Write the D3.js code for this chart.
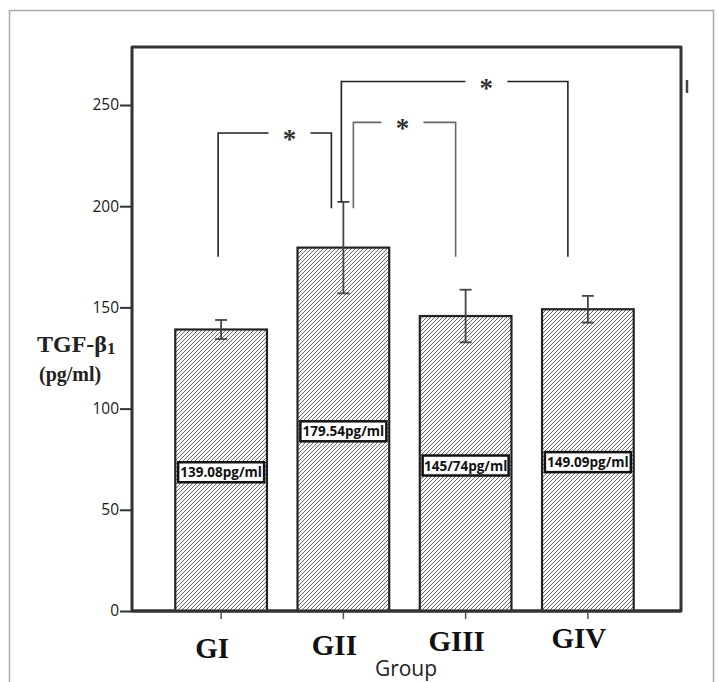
<!DOCTYPE html>
<html><head><meta charset="utf-8">
<script src="https://cdn.jsdelivr.net/npm/d3@7"></script>
<style>body{margin:0;background:#fff} svg{display:block}</style>
</head><body><svg id="c" width="718" height="682"></svg>
<script>
// ---- data ----
const groups = ["GI", "GII", "GIII", "GIV"];
const means = [139.08, 179.54, 145.74, 149.09];
const errors = [4.7, 22.6, 13.0, 6.6];
const valueLabels = ["139.08pg/ml", "179.54pg/ml", "145/74pg/ml", "149.09pg/ml"];
const yTicks = [0, 50, 100, 150, 200, 250];
const yMax = 278.6;
const bracketFrom = ["GI", "GII", "GII"];
const bracketTo = ["GII", "GIII", "GIV"];
const bracketLevel = [236.2, 241.4, 261.6];
const bracketLeftEnd = [175, 199, 202];
const bracketRightEnd = [199, 175, 175];
const bracketMarks = ["*", "*", "*"];

// ---- layout ----
const svg = d3.select("#c");
const leftX = 132, rightX = 681, bottomY = 611;
const y = d3.scaleLinear().domain([0, 250]).range([bottomY, 105]);
const x = d3.scaleBand().domain(groups).range([160, 649]).paddingInner(0.25).paddingOuter(0.125);
const cx = g => x(g) + x.bandwidth() / 2;

// outer frame
svg.append("path").attr("d", "M9.5,690 V10.5 H713.5 V690")
  .attr("fill", "none").attr("stroke", "#a8a8a8").attr("stroke-width", 1.5);

// hatch pattern
const defs = svg.append("defs");
const pat = defs.append("pattern").attr("id", "hatch").attr("patternUnits", "userSpaceOnUse")
  .attr("width", 4).attr("height", 4);
pat.append("rect").attr("width", 4).attr("height", 4).attr("fill", "#f8f8f8");
pat.append("path").attr("d", "M-1,1 l2,-2 M0,4 l4,-4 M3,5 l2,-2")
  .attr("stroke", "#6c6c6c").attr("stroke-width", 1.0);

// plot frame
const topY = y(yMax);
svg.append("path").attr("d", `M${leftX},${bottomY} V${topY} H${rightX} V${bottomY} Z`)
  .attr("fill", "none").attr("stroke", "#333").attr("stroke-width", 3).attr("stroke-linejoin", "round");

// y axis
const yAxis = d3.axisLeft(y).tickValues(yTicks).tickSize(12).tickPadding(1);
const ga = svg.append("g").attr("transform", `translate(${leftX},0)`).call(yAxis);
ga.select(".domain").remove();
ga.selectAll(".tick line").attr("stroke", "#333").attr("stroke-width", 2);
ga.selectAll(".tick text").attr("font-family", "'Open Sans', sans-serif").attr("font-size", 15.5).attr("fill", "#1a1a1a");

// x axis
const xAxis = d3.axisBottom(x).tickSize(8).tickFormat("");
const gx = svg.append("g").attr("transform", `translate(0,${bottomY})`).call(xAxis);
gx.select(".domain").remove();
gx.selectAll(".tick line").attr("stroke", "#555").attr("stroke-width", 1.5);

// bars
svg.selectAll("rect.bar").data(groups).enter().append("rect").attr("class", "bar")
  .attr("x", g => x(g)).attr("width", x.bandwidth())
  .attr("y", (g, i) => y(means[i])).attr("height", (g, i) => bottomY - y(means[i]))
  .attr("fill", "url(#hatch)").attr("stroke", "#222").attr("stroke-width", 2.2);

// redraw baseline on top
svg.append("line").attr("x1", leftX).attr("x2", rightX).attr("y1", bottomY).attr("y2", bottomY)
  .attr("stroke", "#333").attr("stroke-width", 3);

// error bars
const eb = svg.selectAll("g.eb").data(groups).enter().append("g").attr("class", "eb")
  .attr("stroke", "#444").attr("stroke-width", 1.8);
eb.append("line").attr("x1", cx).attr("x2", cx)
  .attr("y1", (g, i) => y(means[i] + errors[i])).attr("y2", (g, i) => y(means[i] - errors[i]));
eb.append("line").attr("x1", g => cx(g) - 6).attr("x2", g => cx(g) + 6)
  .attr("y1", (g, i) => y(means[i] + errors[i])).attr("y2", (g, i) => y(means[i] + errors[i]));
eb.append("line").attr("x1", g => cx(g) - 6).attr("x2", g => cx(g) + 6)
  .attr("y1", (g, i) => y(means[i] - errors[i])).attr("y2", (g, i) => y(means[i] - errors[i]));

// value labels
const vl = svg.selectAll("g.vl").data(groups).enter().append("g").attr("class", "vl")
  .attr("transform", (g, i) => `translate(${cx(g)},${y(means[i] / 2) + 2})`);
vl.append("rect").attr("x", -43).attr("y", -10).attr("width", 86).attr("height", 20)
  .attr("fill", "#fff").attr("stroke", "#111").attr("stroke-width", 2.5);
vl.append("text").attr("text-anchor", "middle").attr("y", 5)
  .attr("font-family", "'Open Sans', sans-serif").attr("font-weight", "bold").attr("font-size", 13.5)
  .attr("fill", "#111").text((g, i) => valueLabels[i]);

// significance brackets
const legOff = [[-3, -12], [10, -10], [-2, -20]];
const gapFrac = [0.63, 0.48, 0.64];
const bColor = ["#222", "#666", "#222"];
bracketFrom.forEach((f, i) => {
  const x1 = cx(f) + legOff[i][0], x2 = cx(bracketTo[i]) + legOff[i][1];
  const yl = y(bracketLevel[i]);
  const gc = x1 + (x2 - x1) * gapFrac[i];
  const g = svg.append("g").attr("fill", "none").attr("stroke", bColor[i]).attr("stroke-width", 1.6);
  g.append("path").attr("d", `M${x1},${y(bracketLeftEnd[i])} V${yl} H${gc - 21}`);
  g.append("path").attr("d", `M${gc + 21},${yl} H${x2} V${y(bracketRightEnd[i])}`);
  svg.append("text").attr("x", gc).attr("y", yl + 15).attr("text-anchor", "middle")
    .attr("font-family", "'Liberation Serif', serif").attr("font-weight", "bold").attr("font-size", 27)
    .attr("fill", "#333").text(bracketMarks[i]);
});

// small clipped mark at right
svg.append("line").attr("x1", 687).attr("x2", 687).attr("y1", 80).attr("y2", 93)
  .attr("stroke", "#444").attr("stroke-width", 2.5);

// group labels
svg.selectAll("text.gl").data(groups).enter().append("text").attr("class", "gl")
  .attr("x", g => cx(g) - 9).attr("y", (g, i) => 658 - i * 3.5).attr("text-anchor", "middle")
  .attr("font-family", "'Liberation Serif', serif").attr("font-weight", "bold").attr("font-size", 29)
  .attr("fill", "#111").text(g => g);

// x title
svg.append("text").attr("x", 406).attr("y", 676).attr("text-anchor", "middle")
  .attr("font-family", "'Open Sans', sans-serif").attr("font-size", 21).attr("fill", "#222").text("Group");

// y title
const yt = svg.append("text").attr("x", 37).attr("y", 352)
  .attr("font-family", "'Liberation Serif', serif").attr("font-weight", "bold").attr("font-size", 24)
  .attr("fill", "#222");
yt.append("tspan").text("TGF-β");
yt.append("tspan").attr("font-size", 17).attr("dy", 2).text("1");
svg.append("text").attr("x", 39).attr("y", 381)
  .attr("font-family", "'Liberation Serif', serif").attr("font-weight", "bold").attr("font-size", 20)
  .attr("fill", "#222").text("(pg/ml)");
</script></body></html>
